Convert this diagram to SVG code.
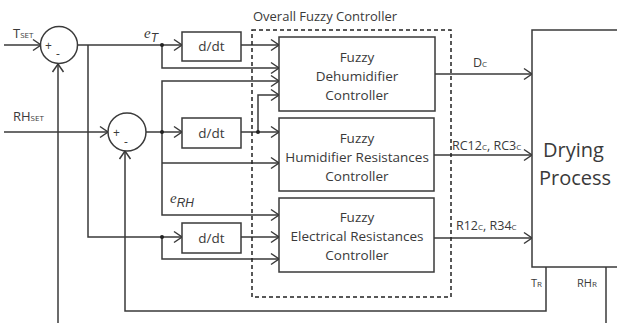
<svg xmlns="http://www.w3.org/2000/svg" width="617" height="323" viewBox="0 0 617 323">
<style>
.ln{fill:none;stroke:#3a3a3a;stroke-width:1.5}
.bx{fill:#fff;stroke:#3a3a3a;stroke-width:1.5}
.t{font-family:"Open Sans","Liberation Sans",sans-serif;fill:#3a3a3a}
.c{text-anchor:middle}
.f{font-size:13.5px}
.sub{font-size:8px}
</style>
<defs>
<marker id="a" markerUnits="userSpaceOnUse" markerWidth="12" markerHeight="14" viewBox="0 0 12 14" refX="10" refY="7" orient="auto">
<path d="M2,1.5 L10,7 L2,12.5" fill="none" stroke="#3a3a3a" stroke-width="1.5"/>
</marker>
</defs>
<rect width="617" height="323" fill="#fff"/>
<g id="connectors" class="ln">
<path d="M4,45 H41" marker-end="url(#a)"/>
<path d="M78,45 H182" marker-end="url(#a)"/>
<path d="M162,45 V68 H279" marker-end="url(#a)"/>
<path d="M88,45 V237 H182" marker-end="url(#a)"/>
<path d="M162,237 V259 H279" marker-end="url(#a)"/>
<path d="M241,45 H279" marker-end="url(#a)"/>
<path d="M4,132 H108" marker-end="url(#a)"/>
<path d="M146,132 H182" marker-end="url(#a)"/>
<path d="M162,132 V81 H279" marker-end="url(#a)"/>
<path d="M162,132 V215 H279" marker-end="url(#a)"/>
<path d="M162,163 H279" marker-end="url(#a)"/>
<path d="M241,132 H279" marker-end="url(#a)"/>
<path d="M258,132 V95 H279" marker-end="url(#a)"/>
<path d="M241,237 H279" marker-end="url(#a)"/>
<path d="M435,74 H532" marker-end="url(#a)"/>
<path d="M434,155 H532" marker-end="url(#a)"/>
<path d="M434,238 H532" marker-end="url(#a)"/>
<path d="M546,267 V311 H125 V151" marker-end="url(#a)"/>
<path d="M606,267 V323"/>
<path d="M58,323 V64" marker-end="url(#a)"/>
<g fill="#222" stroke="none">
<circle cx="162" cy="45" r="2"/>
<circle cx="162" cy="132" r="2"/>
<circle cx="258" cy="132" r="2"/>
<circle cx="162" cy="237" r="2"/>
</g>
</g>
<g id="overall">
<rect x="252" y="30" width="199" height="267" fill="none" stroke="#222" stroke-width="1.5" stroke-dasharray="4,3"/>
<text class="t c" x="325" y="21" style="font-size:13px">Overall Fuzzy Controller</text>
</g>
<g id="sum1">
<circle class="bx" cx="59" cy="45" r="18.5"/>
<text class="t" x="45" y="50" style="font-size:12px">+</text>
<text class="t" x="56" y="58" style="font-size:12px">-</text>
</g>
<g id="sum2">
<circle class="bx" cx="127" cy="132" r="19"/>
<text class="t" x="113" y="137" style="font-size:12px">+</text>
<text class="t" x="124" y="146" style="font-size:12px">-</text>
</g>
<g id="labels-in">
<text class="t" x="13" y="38" style="font-size:13px">T<tspan class="sub">SET</tspan></text>
<text class="t" x="13" y="121" style="font-size:13px">RH<tspan class="sub">SET</tspan></text>
<text x="144" y="38" font-family="Liberation Serif,serif" font-style="italic" font-size="15" fill="#3a3a3a">e<tspan font-family="Liberation Sans,sans-serif" font-size="12" dy="4">T</tspan></text>
<text x="170" y="203" font-family="Liberation Serif,serif" font-style="italic" font-size="15" fill="#3a3a3a">e<tspan font-family="Liberation Sans,sans-serif" font-size="12" dy="4">RH</tspan></text>
</g>
<g id="ddt1">
<rect class="bx" x="182" y="32" width="59" height="29"/>
<text class="t c f" x="211.5" y="51">d/dt</text>
</g>
<g id="ddt2">
<rect class="bx" x="182" y="118" width="59" height="30"/>
<text class="t c f" x="211.5" y="138">d/dt</text>
</g>
<g id="ddt3">
<rect class="bx" x="182" y="223" width="59" height="30"/>
<text class="t c f" x="211.5" y="243">d/dt</text>
</g>
<g id="fuzzy1">
<rect class="bx" x="279" y="37" width="156" height="74"/>
<text class="t c f" x="357" y="62">Fuzzy</text>
<text class="t c f" x="357" y="81">Dehumidifier</text>
<text class="t c f" x="357" y="100">Controller</text>
</g>
<g id="fuzzy2">
<rect class="bx" x="279" y="118" width="155" height="73"/>
<text class="t c f" x="357" y="143">Fuzzy</text>
<text class="t c f" x="357" y="162">Humidifier Resistances</text>
<text class="t c f" x="357" y="181">Controller</text>
</g>
<g id="fuzzy3">
<rect class="bx" x="279" y="198" width="155" height="74"/>
<text class="t c f" x="357" y="222">Fuzzy</text>
<text class="t c f" x="357" y="241">Electrical Resistances</text>
<text class="t c f" x="357" y="260">Controller</text>
</g>
<g id="outputs">
<text class="t" x="473" y="67" style="font-size:12.5px">D<tspan class="sub">C</tspan></text>
<text class="t" x="452" y="150" style="font-size:12.5px">RC12<tspan class="sub">C</tspan>, RC3<tspan class="sub">C</tspan></text>
<text class="t" x="456" y="230" style="font-size:12.5px">R12<tspan class="sub">C</tspan>, R34<tspan class="sub">C</tspan></text>
</g>
<g id="process">
<rect class="bx" x="532" y="30" width="100" height="237"/>
<text class="t" x="543" y="157" style="font-size:20px">Drying</text>
<text class="t" x="539" y="185" style="font-size:20px">Process</text>
<text class="t" x="531" y="287" style="font-size:11px">T<tspan class="sub">R</tspan></text>
<text class="t" x="577" y="287" style="font-size:11px">RH<tspan class="sub">R</tspan></text>
</g>
</svg>
